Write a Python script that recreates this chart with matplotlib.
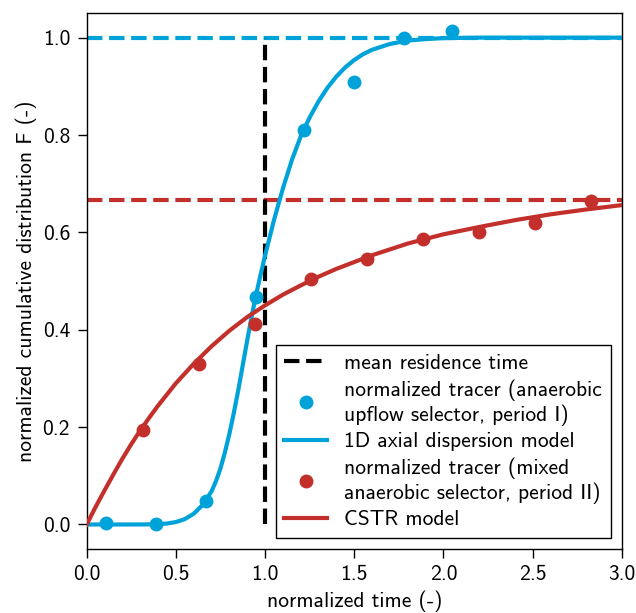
import matplotlib
matplotlib.use("Agg")
import matplotlib.pyplot as plt

# tracer data, period I (anaerobic upflow selector)
t_upflow = [0.11, 0.39, 0.67, 0.95, 1.22, 1.50, 1.78, 2.05]
F_upflow = [0.004, 0.002, 0.048, 0.467, 0.811, 0.909, 1.000, 1.013]

# tracer data, period II (mixed anaerobic selector)
t_mixed = [0.314, 0.628, 0.942, 1.256, 1.570, 1.884, 2.198, 2.512, 2.826]
F_mixed = [0.195, 0.330, 0.411, 0.505, 0.546, 0.586, 0.601, 0.620, 0.664]

# 1D axial dispersion model
t_disp = [0.0, 0.30, 0.40, 0.45, 0.50, 0.55, 0.60, 0.65, 0.70, 0.725, 0.75,
          0.775, 0.80, 0.825, 0.85, 0.875, 0.90, 0.925, 0.95, 0.975, 1.00,
          1.05, 1.10, 1.15, 1.20, 1.25, 1.30, 1.35, 1.40, 1.45, 1.50, 1.55,
          1.60, 1.70, 1.80, 1.90, 2.00, 2.20, 3.00]
F_disp = [0.0, 0.0, 0.0005, 0.002, 0.005, 0.011, 0.022, 0.040, 0.068, 0.089,
          0.115, 0.148, 0.186, 0.229, 0.276, 0.327, 0.378, 0.427, 0.472,
          0.513, 0.552, 0.625, 0.690, 0.748, 0.797, 0.836, 0.869, 0.897,
          0.920, 0.939, 0.954, 0.966, 0.975, 0.987, 0.994, 0.997, 0.999,
          1.0, 1.0]

# CSTR model
t_cstr = [0.0, 0.05, 0.1, 0.15, 0.2, 0.25, 0.3, 0.35, 0.4, 0.5, 0.6, 0.7,
          0.8, 0.9, 1.0, 1.1, 1.2, 1.3, 1.4, 1.5, 1.6, 1.8, 2.0, 2.2, 2.4,
          2.6, 2.8, 3.0]
F_cstr = [0.0, 0.036, 0.070, 0.103, 0.135, 0.165, 0.193, 0.219, 0.244,
          0.290, 0.330, 0.366, 0.398, 0.426, 0.450, 0.472, 0.491, 0.509,
          0.525, 0.539, 0.553, 0.577, 0.596, 0.611, 0.625, 0.637, 0.647,
          0.656]

mean_res_time = 1.0
F_max_upflow = 1.0
F_max_mixed = 2.0 / 3.0

blue = '#00a3d9'
red = '#c3302c'

plt.rcParams['font.family'] = ['cmss10', 'DejaVu Sans']
plt.rcParams['font.size'] = 15.5
plt.rcParams['axes.unicode_minus'] = False

fig = plt.figure(figsize=(6.36, 6.13), dpi=100)
ax = fig.add_axes([0.1363, 0.1047, 0.8412, 0.8736])

ax.plot([mean_res_time, mean_res_time], [0, 1], '--', color='black', lw=3,
        label='mean residence time', zorder=3)
ax.axhline(F_max_upflow, ls='--', color=blue, lw=3, zorder=2)
ax.axhline(F_max_mixed, ls='--', color=red, lw=3, zorder=2)

ax.plot(t_upflow, F_upflow, 'o', color=blue, ms=9,
        label='normalized tracer (anaerobic\nupflow selector, period I)', zorder=5)
ax.plot(t_disp, F_disp, '-', color=blue, lw=3,
        label='1D axial dispersion model', zorder=4)
ax.plot(t_mixed, F_mixed, 'o', color=red, ms=9,
        label='normalized tracer (mixed\nanaerobic selector, period II)', zorder=5)
ax.plot(t_cstr, F_cstr, '-', color=red, lw=3, label='CSTR model', zorder=4)

ax.set_xlim(0, 3)
ax.set_ylim(-0.05, 1.05)
ax.set_xticks([0, 0.5, 1.0, 1.5, 2.0, 2.5, 3.0])
ax.set_yticks([0, 0.2, 0.4, 0.6, 0.8, 1.0])
ax.tick_params(length=6.5, width=1, pad=5.5)
for s in ax.spines.values():
    s.set_linewidth(1)
ax.set_xlabel('normalized time (-)')
ax.set_ylabel('normalized cumulative distribution F (-)')

leg = ax.legend(loc='lower right', fancybox=False, edgecolor='black',
                framealpha=1, labelspacing=0.3)
leg.get_frame().set_linewidth(1)

fig.savefig('out.png', dpi=100)
